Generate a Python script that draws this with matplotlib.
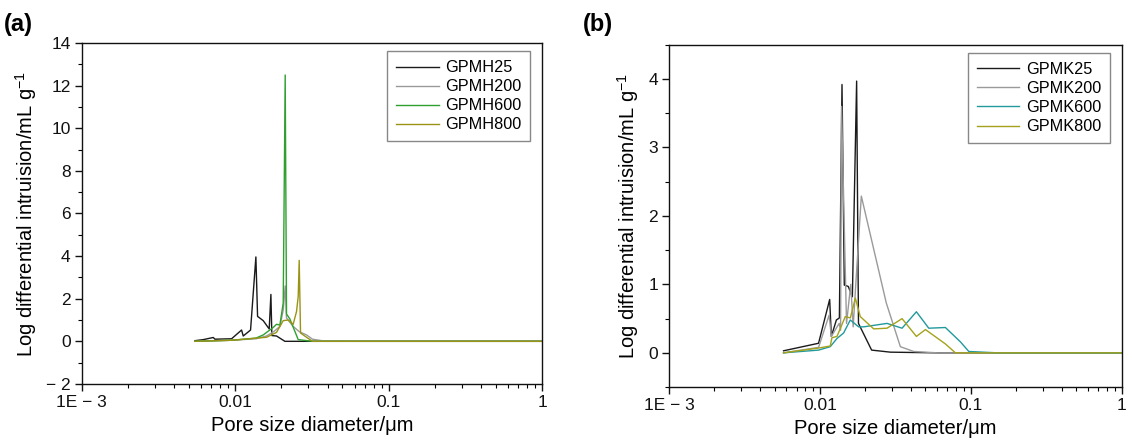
import matplotlib
matplotlib.use("Agg")
import matplotlib.pyplot as plt
from matplotlib.ticker import FixedLocator, MultipleLocator, LogLocator, NullFormatter

plt.rcParams["font.family"] = ["Liberation Sans", "DejaVu Sans"]
plt.rcParams["mathtext.fontset"] = "custom"
plt.rcParams["mathtext.rm"] = "Liberation Sans"
plt.rcParams["mathtext.default"] = "regular"

# Colors
black = "#1a1a1a"
gray = "#9a9a9a"
green = "#2fa02f"
olive = "#9a9416"
teal = "#22999c"
olive_b = "#a5a21c"

# Data, panel (a): pore diameter (um) vs log differential intrusion
h25_d = [0.00547, 0.0062, 0.0072, 0.00738, 0.00948, 0.01101, 0.01129, 0.01260, 0.01365,
         0.01400, 0.01524, 0.01667, 0.01710, 0.01735, 0.01861, 0.02109, 0.05, 0.2, 1.0]
h25_v = [0.03, 0.08, 0.18, 0.10, 0.12, 0.53, 0.25, 0.53, 3.96,
         1.17, 0.97, 0.58, 2.20, 0.27, 0.25, 0.0, 0.0, 0.0, 0.0]

h200_d = [0.00547, 0.0095, 0.0137, 0.0160, 0.0178, 0.0196, 0.0206, 0.0212, 0.0216,
          0.0227, 0.0239, 0.0262, 0.0292, 0.0319, 0.0375, 0.06, 0.2, 1.0]
h200_v = [0.0, 0.05, 0.12, 0.25, 0.45, 0.70, 1.50, 2.60, 1.10,
          0.90, 0.70, 0.45, 0.30, 0.10, 0.02, 0.0, 0.0, 0.0]

h600_d = [0.00547, 0.0095, 0.01365, 0.01524, 0.0177, 0.01861, 0.01956, 0.02057, 0.02119,
          0.02162, 0.02273, 0.02576, 0.03193, 0.06, 1.0]
h600_v = [0.0, 0.05, 0.15, 0.30, 0.65, 0.80, 0.76, 1.80, 12.5,
          1.28, 1.05, 0.08, 0.0, 0.0, 0.0]

h800_d = [0.00547, 0.0095, 0.01602, 0.01861, 0.02057, 0.02217, 0.02389, 0.02512, 0.02576,
          0.02615, 0.02668, 0.02918, 0.03193, 0.06, 1.0]
h800_v = [0.0, 0.05, 0.19, 0.42, 0.97, 1.00, 0.80, 1.40, 2.10,
          3.80, 0.39, 0.19, 0.0, 0.0, 0.0]

# Data, panel (b)
k25_d = [0.00574, 0.00979, 0.0116, 0.0119, 0.01285, 0.01345, 0.01400, 0.01450, 0.01540,
         0.01640, 0.01750, 0.01800, 0.02200, 0.0293, 0.06, 1.0]
k25_v = [0.03, 0.14, 0.78, 0.24, 0.48, 0.51, 3.92, 0.99, 0.97,
         0.82, 3.97, 0.43, 0.04, 0.01, 0.0, 0.0]

k200_d = [0.00574, 0.00979, 0.0115, 0.0119, 0.01340, 0.0137, 0.0139, 0.01500, 0.0160,
          0.0166, 0.01740, 0.01880, 0.02750, 0.0341, 0.0418, 0.06, 1.0]
k200_v = [0.0, 0.08, 0.55, 0.24, 0.43, 0.33, 3.6, 0.43, 1.0,
          0.38, 1.11, 2.29, 0.73, 0.09, 0.02, 0.0, 0.0]

k600_d = [0.00574, 0.00979, 0.0117, 0.01297, 0.01435, 0.01589, 0.01803, 0.0195, 0.02783,
          0.035, 0.04355, 0.0526, 0.0678, 0.0853, 0.0969, 0.15, 1.0]
k600_v = [0.0, 0.04, 0.09, 0.21, 0.29, 0.48, 0.38, 0.38, 0.43,
          0.36, 0.60, 0.36, 0.37, 0.16, 0.02, 0.0, 0.0]

k800_d = [0.00574, 0.00979, 0.0117, 0.0120, 0.01297, 0.01472, 0.01589, 0.01716, 0.0185,
          0.0227, 0.02783, 0.035, 0.04355, 0.050, 0.0678, 0.079, 1.0]
k800_v = [0.0, 0.07, 0.10, 0.22, 0.24, 0.53, 0.51, 0.80, 0.53,
          0.35, 0.36, 0.50, 0.24, 0.34, 0.13, 0.0, 0.0]

x_ticks = [0.001, 0.01, 0.1, 1]
x_ticklabels = ["1E \u2212 3", "0.01", "0.1", "1"]

ylabel = "Log differential intruision/mL g$^{-1}$"
xlabel = "Pore size diameter/\u03bcm"

fig = plt.figure(figsize=(11.32, 4.48), dpi=100, facecolor="white")
ax_a = fig.add_axes([0.0722, 0.143, 0.4066, 0.761])
ax_b = fig.add_axes([0.591, 0.136, 0.400, 0.764])


def style_axes(ax, ylim, ymajor, yminor):
    ax.set_xscale("log")
    ax.set_xlim(0.001, 1)
    ax.set_ylim(*ylim)
    ax.xaxis.set_major_locator(FixedLocator(x_ticks))
    ax.set_xticklabels(x_ticklabels)
    ax.xaxis.set_minor_locator(LogLocator(base=10, subs=range(2, 10)))
    ax.xaxis.set_minor_formatter(NullFormatter())
    ax.yaxis.set_major_locator(MultipleLocator(ymajor))
    ax.yaxis.set_minor_locator(MultipleLocator(yminor))
    ax.yaxis.set_major_formatter(
        plt.FuncFormatter(lambda v, p: ("\u2212 %g" % -v) if v < 0 else "%g" % v))
    ax.tick_params(which="major", direction="out", length=5, width=1, pad=3,
                   labelsize=12.5, colors="#111111", top=False, right=False)
    ax.tick_params(which="minor", direction="out", length=3, width=0.8,
                   top=False, right=False)
    for spine in ax.spines.values():
        spine.set_linewidth(1.0)
        spine.set_color("#111111")
    ax.set_xlabel(xlabel, fontsize=14.5, labelpad=4)
    ax.set_ylabel(ylabel, fontsize=14.5, labelpad=5)


# Panel (a)
ax_a.plot(h25_d, h25_v, color=black, lw=1.0, label="GPMH25")
ax_a.plot(h200_d, h200_v, color=gray, lw=1.0, label="GPMH200")
ax_a.plot(h600_d, h600_v, color=green, lw=1.0, label="GPMH600")
ax_a.plot(h800_d, h800_v, color=olive, lw=1.0, label="GPMH800")
style_axes(ax_a, (-2, 14), 2, 1)

# Panel (b)
ax_b.plot(k25_d, k25_v, color=black, lw=1.0, label="GPMK25")
ax_b.plot(k200_d, k200_v, color=gray, lw=1.0, label="GPMK200")
ax_b.plot(k600_d, k600_v, color=teal, lw=1.0, label="GPMK600")
ax_b.plot(k800_d, k800_v, color=olive_b, lw=1.0, label="GPMK800")
style_axes(ax_b, (-0.5, 4.5), 1, 0.5)

for ax in (ax_a, ax_b):
    leg = ax.legend(loc="upper right", bbox_to_anchor=(0.985, 0.99), fontsize=11.7,
                    frameon=True, fancybox=False, framealpha=1, edgecolor="#888888",
                    handlelength=2.6, handletextpad=0.4, labelspacing=0.25,
                    borderpad=0.55, borderaxespad=0.3)
    leg.get_frame().set_linewidth(1.0)

fig.text(0.003, 0.945, "(a)", fontsize=17, fontweight="bold", va="center")
fig.text(0.515, 0.945, "(b)", fontsize=17, fontweight="bold", va="center")

fig.savefig("out.png", dpi=100)
